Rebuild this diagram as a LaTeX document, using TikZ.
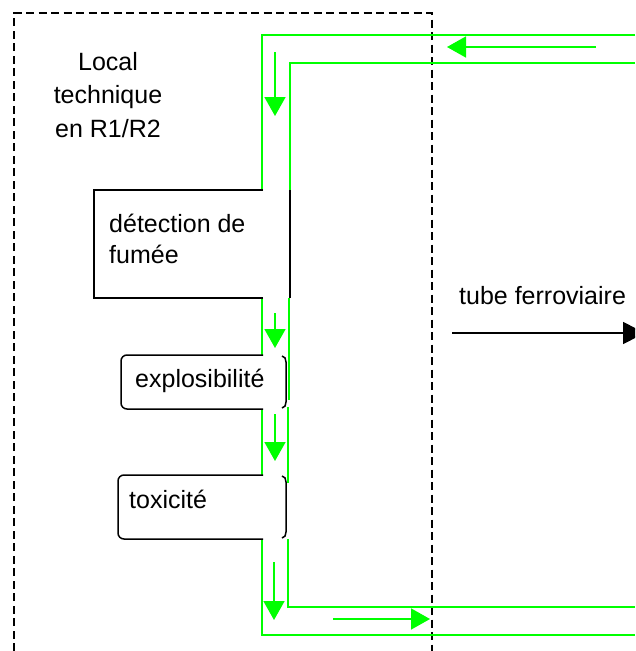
\documentclass[tikz,border=0pt]{standalone}
\usepackage{fontspec}
\setmainfont{Liberation Sans}
\usetikzlibrary{arrows.meta}
\definecolor{pipegreen}{rgb}{0,1,0}
\tikzset{
  pipe/.style={draw=pipegreen, line width=1.7pt},
  flow/.style={draw=pipegreen, line width=1.7pt, -{Triangle[length=19pt,width=21pt]}, pipegreen},
  boxline/.style={draw=black, line width=1.5pt},
  zone/.style={draw=black, line width=1.5pt, dash pattern=on 8pt off 4.5pt},
  label/.style={inner sep=0pt, font=\fontsize{25}{31}\selectfont},
}
\begin{document}
\begin{tikzpicture}[x=1pt,y=-1pt]
\useasboundingbox (0,0) rectangle (635,651);
\clip (0,0) rectangle (635,651);

% technical room boundary
\draw[zone] (14,651) -- (14,13) -- (432,13) -- (432,651);

% pipe corner points
\coordinate (oTR) at (635,35);
\coordinate (oTL) at (262,35);
\coordinate (oBL) at (262,635);
\coordinate (oBR) at (635,635);
\coordinate (iTR) at (635,63);
\coordinate (iTL) at (290,63);
\coordinate (iBL) at (288,607);
\coordinate (iBR) at (635,607);

% outer wall of the sampling pipe
\draw[pipe] (oTR) -- (oTL) -- (262,190);
\draw[pipe] (262,298) -- (262,355);
\draw[pipe] (262,409) -- (262,475);
\draw[pipe] (262,539) -- (oBL) -- (oBR);
% inner wall
\draw[pipe] (iTR) -- (iTL) -- (290,190);
\draw[pipe] (289,298) -- (289,400);
\draw[pipe] (288,407) -- (288,483);
\draw[pipe] (288,539) -- (iBL) -- (iBR);

% smoke detection box
\draw[boxline] (263,190) -- (94,190) -- (94,298) -- (263,298);
\draw[boxline] (290,190) -- (290,298);
\node[label, anchor=base west, align=left] (det) at (109,263) {détection de\\fumée};

% explosibility box
\draw[boxline, rounded corners=6pt] (263,355) -| (121,409) -- (263,409);
\draw[boxline] (282,356) to[out=0,in=90] (286,362) -- (286,402) to[out=-90,in=0] (282,408);
\node[label, anchor=base west] (expl) at (135,387) {explosibilité};

% toxicity box
\draw[boxline, rounded corners=6pt] (263,475) -| (118,539) -- (263,539);
\draw[boxline] (282,476) to[out=0,in=90] (286,482) -- (286,532) to[out=-90,in=0] (282,538);
\node[label, anchor=base west] (tox) at (129,508) {toxicité};

% room label
\node[label, anchor=base, align=center, font=\fontsize{25}{33.5}\selectfont] (local) at (108,137) {Local\\technique\\en R1/R2};

% flow direction in the pipe
\coordinate (a1s) at (596,47);  \coordinate (a1e) at (447,47);
\coordinate (a2s) at (275,52);  \coordinate (a2e) at (275,116);
\coordinate (a3s) at (275,313); \coordinate (a3e) at (275,348);
\coordinate (a4s) at (275,414); \coordinate (a4e) at (275,461);
\coordinate (a5s) at (274,562); \coordinate (a5e) at (274,620);
\coordinate (a6s) at (333,619); \coordinate (a6e) at (430,619);
\draw[flow] (a1s) -- (a1e);
\draw[flow] (a2s) -- (a2e);
\draw[flow] (a3s) -- (a3e);
\draw[flow] (a4s) -- (a4e);
\draw[flow] (a5s) -- (a5e);
\draw[flow] (a6s) -- (a6e);

% railway tube
\node[label, anchor=base west] (tube) at (459,304) {tube ferroviaire};
\coordinate (t1) at (452,333);
\coordinate (t2) at (645,333);
\draw[line width=1.5pt, -{Triangle[length=22pt,width=22pt]}] (t1) -- (t2);
\end{tikzpicture}
\end{document}
